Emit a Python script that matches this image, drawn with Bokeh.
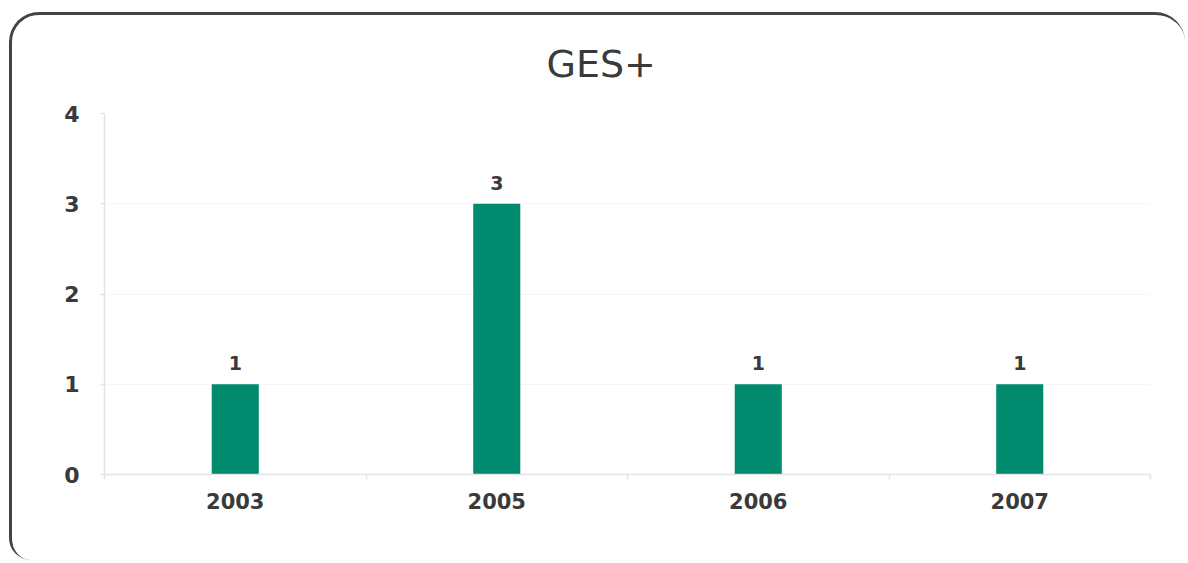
from bokeh.plotting import figure
from bokeh.core.properties import value
from bokeh.models import (ColumnDataSource, Range1d, LinearAxis,
                          FixedTicker, LabelSet, Title)
from bokeh.embed import file_html
from bokeh.resources import INLINE

# Data
years = ["2003", "2005", "2006", "2007"]
counts = [1, 3, 1, 1]
y_ticks = [0, 1, 2, 3, 4]
title_text = "GES+"

BAR_COLOR = "#008a6e"
TEXT_COLOR = "#3a3a3a"
AXIS_COLOR = "#e4e4e4"
FONT = "DejaVu Sans"

n = len(years)
# each year gets one slot of width 1; bars sit in the slot centres
slot_centres = [i + 0.5 for i in range(n)]
source = ColumnDataSource(dict(x=slot_centres, year=years, count=counts,
                               label=[str(c) for c in counts]))

p = figure(width=1176, height=548,
           x_range=Range1d(0, n), y_range=Range1d(0, max(y_ticks)),
           output_backend="svg", toolbar_location=None,
           x_axis_location=None, y_axis_location=None,
           min_border_left=92, min_border_right=38,
           min_border_top=98, min_border_bottom=89)
p.outline_line_color = None
p.background_fill_color = "white"
p.border_fill_color = "white"
p.xgrid.grid_line_color = None
p.ygrid.grid_line_color = "#f6f6f6"
p.ygrid.ticker = FixedTicker(ticks=y_ticks)

# card look: rounded dark frame that runs off the right and bottom page edges
p.styles = {
    "margin-left": "9px",
    "margin-top": "12px",
    "border": "3px solid #444444",
    "border-right": "0px solid #444444",
    "border-bottom": "0px solid #444444",
    "border-radius": "30px",
    "border-bottom-left-radius": "22px",
    "overflow": "hidden",
}

p.title = Title(text=title_text, align="left", vertical_align="top",
                text_font=FONT, text_font_size="38px",
                text_font_style="normal", text_color=TEXT_COLOR,
                standoff=52, offset=442)

xaxis = LinearAxis(ticker=FixedTicker(ticks=slot_centres,
                                      minor_ticks=list(range(n + 1))),
                   major_label_overrides={c: y for c, y in zip(slot_centres, years)})
xaxis.axis_line_color = AXIS_COLOR
xaxis.axis_line_width = 1.5
xaxis.major_tick_line_color = None
xaxis.minor_tick_line_color = AXIS_COLOR
xaxis.minor_tick_line_width = 1.5
xaxis.minor_tick_out = 5
xaxis.minor_tick_in = 0
xaxis.major_label_standoff = 12
xaxis.major_label_text_font = FONT
xaxis.major_label_text_font_size = "21px"
xaxis.major_label_text_font_style = "bold"
xaxis.major_label_text_color = TEXT_COLOR
p.add_layout(xaxis, "below")

yaxis = LinearAxis(ticker=FixedTicker(ticks=y_ticks))
yaxis.axis_line_color = AXIS_COLOR
yaxis.axis_line_width = 1.5
yaxis.major_tick_line_color = AXIS_COLOR
yaxis.major_tick_line_width = 1.5
yaxis.major_tick_out = 4
yaxis.major_tick_in = 0
yaxis.minor_tick_line_color = None
yaxis.major_label_standoff = 21
yaxis.major_label_text_font = FONT
yaxis.major_label_text_font_size = "22px"
yaxis.major_label_text_font_style = "bold"
yaxis.major_label_text_color = TEXT_COLOR
p.add_layout(yaxis, "left")

p.vbar(x="x", top="count", width=0.18, source=source,
       fill_color=BAR_COLOR, line_color=None)

p.add_layout(LabelSet(x="x", y="count", text="label", source=source,
                      y_offset=14, text_align="center", text_baseline="bottom",
                      text_font=value(FONT), text_font_size=value("19px"),
                      text_font_style="bold", text_color=TEXT_COLOR))

open("out.html", "w").write(file_html(p, INLINE))
